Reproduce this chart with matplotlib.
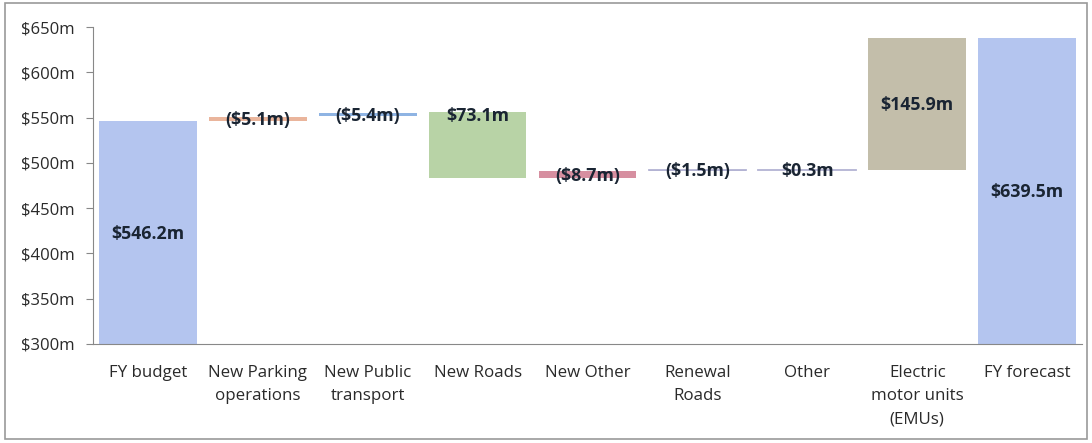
import matplotlib.pyplot as plt
from matplotlib.patches import Rectangle

# Data (values in $m)
categories = ["FY budget", "New Parking\noperations", "New Public\ntransport", "New Roads",
              "New Other", "Renewal\nRoads", "Other", "Electric\nmotor units\n(EMUs)", "FY forecast"]
bar_bottom = [300, 546.6, 551.9, 483.6, 482.8, 491.4, 491.9, 492.2, 300]
bar_top = [546.2, 550.4, 555.6, 555.8, 491.2, 492.6, 492.3, 637.8, 637.8]
labels = ["$546.2m", "($5.1m)", "($5.4m)", "$73.1m", "($8.7m)", "($1.5m)", "$0.3m", "$145.9m", "$639.5m"]
colors = ["#b4c5ef", "#eab59c", "#8fb4e3", "#b8d3a6", "#d68fa0", "#b3b3d3", "#b3b3d3", "#c3beaa", "#b4c5ef"]

plt.rcParams['font.family'] = ['Open Sans', 'DejaVu Sans']

fig = plt.figure(figsize=(10.92, 4.43), dpi=100)
ax = fig.add_axes([0.085, 0.2235, 0.906, 0.7155])

x = range(len(categories))
heights = [t - b for b, t in zip(bar_bottom, bar_top)]
ax.bar(x, heights, bottom=bar_bottom, width=0.89, color=colors, zorder=2)

# very thin bars: draw them as lines so they stay visible
for i, h in enumerate(heights):
    if h < 2:
        ax.plot([i - 0.445, i + 0.445], [bar_bottom[i] + h / 2] * 2, color=colors[i], lw=1.3, zorder=2)

#Data labels
for i, lab in enumerate(labels):
    if categories[i] == "New Roads":
        y = bar_top[i] - 4.5
    else:
        y = (bar_bottom[i] + bar_top[i]) / 2 - 1.5
    ax.text(i, y, lab, ha='center', va='center', fontsize=12.8, fontweight='bold', color='#1a2533', zorder=3)

ax.set_ylim(300, 650)
ax.set_xlim(-0.5, 8.5)
ax.set_yticks(range(300, 651, 50))
ax.set_yticklabels([f"${v}m" for v in range(300, 651, 50)], fontsize=12, color='#2a2a2a')
ax.set_xticks(list(x))
ax.set_xticklabels(categories, fontsize=12.2, color='#2a2a2a', linespacing=1.6, va='top')
ax.tick_params(axis='x', length=0, pad=15)
ax.tick_params(axis='y', length=5, color='#888888', pad=8)

for s in ['top', 'right']:
    ax.spines[s].set_visible(False)
ax.spines['left'].set_color('#888888')
ax.spines['bottom'].set_color('#888888')

# outer frame around the chart
fig.patches.append(Rectangle((0.005, 0.008), 0.99, 0.985, transform=fig.transFigure,
                             fill=False, edgecolor='#9a9a9a', lw=1.2))

plt.savefig("out.png", dpi=100)
